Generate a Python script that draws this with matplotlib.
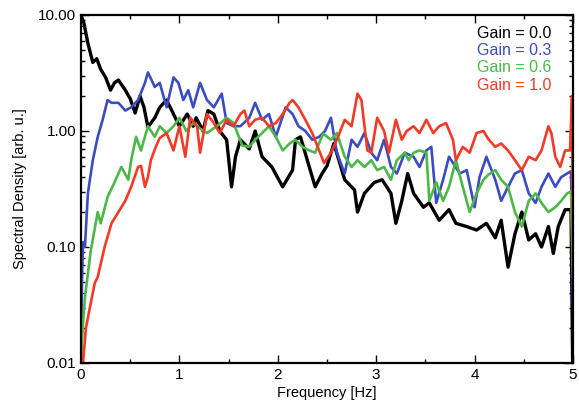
import matplotlib
matplotlib.use("Agg")
import matplotlib.pyplot as plt
from matplotlib.ticker import FixedLocator, FixedFormatter, LogLocator, NullFormatter, MultipleLocator

plt.rcParams['font.family'] = ['Liberation Sans', 'DejaVu Sans']

# ---- data ----
black_x = [0.0, 0.03, 0.07, 0.12, 0.16, 0.2, 0.25, 0.3, 0.34, 0.38, 0.45, 0.5, 0.55, 0.6, 0.64, 0.68,
           0.75, 0.8, 0.87, 0.94, 1.0, 1.08, 1.14, 1.17, 1.24, 1.29, 1.35, 1.41, 1.48, 1.53, 1.57, 1.62,
           1.71, 1.77, 1.84, 1.94, 2.01, 2.05, 2.15, 2.18, 2.23, 2.32, 2.38, 2.45, 2.5, 2.57, 2.68, 2.78,
           2.81, 2.88, 2.98, 3.06, 3.15, 3.2, 3.26, 3.32, 3.38, 3.48, 3.54, 3.64, 3.74, 3.81, 3.92, 4.02,
           4.12, 4.21, 4.27, 4.34, 4.41, 4.48, 4.55, 4.62, 4.68, 4.75, 4.8, 4.85, 4.92, 4.98, 5.0]
black_y = [10.0, 8.5, 5.7, 3.9, 4.2, 3.4, 2.9, 2.25, 2.6, 2.75, 2.25, 1.9, 1.43, 2.0, 1.6, 1.08,
           1.3, 1.6, 1.85, 1.4, 1.1, 1.4, 1.1, 1.3, 1.0, 1.5, 1.4, 1.0, 0.84, 0.33, 0.6, 0.84,
           0.7, 1.0, 0.6, 0.49, 0.38, 0.33, 0.46, 0.84, 0.89, 0.49, 0.33, 0.43, 0.5, 0.78, 0.38, 0.31,
           0.2, 0.29, 0.36, 0.38, 0.29, 0.16, 0.25, 0.43, 0.29, 0.22, 0.24, 0.17, 0.21, 0.16, 0.15, 0.14,
           0.16, 0.12, 0.17, 0.067, 0.13, 0.2, 0.115, 0.13, 0.1, 0.15, 0.088, 0.15, 0.21, 0.21, 0.005]

blue_x = [0.0, 0.01, 0.02, 0.04, 0.07, 0.12, 0.17, 0.22, 0.27, 0.31, 0.38, 0.45, 0.51, 0.58, 0.65, 0.68,
          0.75, 0.8, 0.87, 0.94, 0.99, 1.04, 1.09, 1.14, 1.21, 1.28, 1.35, 1.43, 1.48, 1.55, 1.62, 1.71,
          1.77, 1.84, 1.91, 1.98, 2.08, 2.15, 2.21, 2.28, 2.35, 2.42, 2.48, 2.54, 2.6, 2.68, 2.75, 2.81,
          2.88, 2.95, 3.01, 3.08, 3.15, 3.21, 3.29, 3.38, 3.44, 3.51, 3.56, 3.61, 3.68, 3.74, 3.85, 3.92,
          4.0, 4.05, 4.12, 4.16, 4.21, 4.27, 4.34, 4.41, 4.48, 4.55, 4.62, 4.68, 4.75, 4.82, 4.88, 4.94,
          4.98, 5.0]
blue_y = [0.01, 0.05, 0.11, 0.1, 0.29, 0.56, 0.89, 1.25, 1.85, 1.75, 1.75, 1.5, 1.6, 1.85, 2.6, 3.2,
          2.4, 2.6, 1.6, 2.9, 2.6, 1.85, 2.25, 1.6, 2.6, 1.85, 1.6, 2.1, 1.17, 1.1, 1.1, 1.3,
          1.75, 1.25, 1.4, 0.89, 1.6, 1.4, 1.1, 1.0, 0.84, 0.89, 1.0, 1.3, 0.65, 0.43, 0.84, 0.73,
          0.96, 0.65, 0.56, 0.84, 0.49, 0.43, 0.65, 0.6, 0.49, 0.68, 0.73, 0.24, 0.38, 0.6, 0.43, 0.46,
          0.22, 0.4, 0.6, 0.49, 0.38, 0.25, 0.33, 0.43, 0.46, 0.29, 0.24, 0.33, 0.43, 0.33, 0.4, 0.43,
          0.45, 0.033]

green_x = [0.0, 0.04, 0.1, 0.17, 0.2, 0.27, 0.34, 0.41, 0.48, 0.51, 0.56, 0.61, 0.68, 0.75, 0.8, 0.87,
           0.94, 1.0, 1.07, 1.14, 1.21, 1.28, 1.38, 1.48, 1.55, 1.64, 1.71, 1.77, 1.84, 1.91, 1.98, 2.05,
           2.12, 2.18, 2.25, 2.32, 2.38, 2.46, 2.54, 2.6, 2.68, 2.75, 2.81, 2.88, 2.95, 3.01, 3.08, 3.15,
           3.21, 3.29, 3.33, 3.38, 3.44, 3.51, 3.54, 3.61, 3.68, 3.74, 3.81, 3.88, 3.95, 4.02, 4.09, 4.14,
           4.21, 4.27, 4.34, 4.41, 4.48, 4.55, 4.62, 4.68, 4.75, 4.82, 4.88, 4.94, 4.98, 5.0]
green_y = [0.012, 0.037, 0.094, 0.2, 0.16, 0.27, 0.36, 0.49, 0.38, 0.56, 0.89, 0.68, 1.1, 0.89, 1.1, 0.96,
           1.1, 1.3, 1.0, 1.17, 1.05, 0.96, 1.1, 1.3, 1.17, 0.75, 0.73, 0.84, 0.96, 1.1, 0.89, 0.68,
           0.78, 0.84, 0.73, 0.68, 0.65, 0.95, 0.84, 0.96, 0.6, 0.49, 0.56, 0.49, 0.56, 0.46, 0.49, 0.38,
           0.56, 0.65, 0.56, 0.65, 0.68, 0.65, 0.25, 0.36, 0.25, 0.33, 0.56, 0.33, 0.2, 0.29, 0.38, 0.42,
           0.46, 0.38, 0.33, 0.2, 0.15, 0.25, 0.29, 0.24, 0.2, 0.22, 0.25, 0.29, 0.3, 0.055]

red_x = [0.0, 0.02, 0.05, 0.09, 0.14, 0.17, 0.24, 0.31, 0.38, 0.45, 0.51, 0.58, 0.61, 0.65, 0.68, 0.71,
         0.76, 0.8, 0.87, 0.94, 1.0, 1.06, 1.11, 1.18, 1.21, 1.28, 1.35, 1.41, 1.48, 1.55, 1.62, 1.66,
         1.71, 1.77, 1.84, 1.91, 1.98, 2.05, 2.12, 2.15, 2.21, 2.28, 2.35, 2.42, 2.47, 2.54, 2.6, 2.68,
         2.75, 2.81, 2.85, 2.91, 2.95, 3.01, 3.08, 3.13, 3.2, 3.26, 3.31, 3.38, 3.44, 3.51, 3.58, 3.64,
         3.71, 3.78, 3.81, 3.88, 3.95, 4.02, 4.09, 4.14, 4.21, 4.27, 4.34, 4.41, 4.48, 4.55, 4.62, 4.68,
         4.75, 4.78, 4.82, 4.87, 4.92, 4.97, 4.99, 5.0]
red_y = [0.008, 0.01, 0.02, 0.03, 0.049, 0.055, 0.1, 0.16, 0.2, 0.25, 0.33, 0.49, 0.5, 0.33, 0.4, 0.56,
         0.73, 0.87, 0.96, 0.68, 1.1, 0.6, 1.3, 1.1, 0.65, 1.4, 1.17, 0.96, 1.25, 1.1, 1.4, 1.5,
         1.1, 1.25, 1.3, 1.1, 1.17, 1.4, 1.75, 1.85, 1.6, 1.25, 0.96, 0.68, 0.53, 0.65, 0.84, 1.25,
         1.1, 2.1, 1.85, 0.68, 0.65, 1.3, 1.0, 0.65, 1.25, 0.84, 1.0, 1.1, 0.96, 1.25, 0.96, 1.1,
         1.17, 0.84, 0.56, 0.73, 0.65, 0.96, 1.0, 0.85, 0.73, 0.78, 0.68, 0.56, 0.46, 0.6, 0.56, 0.68,
         1.1, 0.96, 0.6, 0.49, 0.68, 0.68, 2.0, 0.072]

series_labels = ["Gain = 0.0", "Gain = 0.3", "Gain = 0.6", "Gain = 1.0"]
series_colors = ["#000000", "#3a4cc0", "#4cb848", "#f23a26"]

ytick_vals = [0.01, 0.1, 1.0, 10.0]
ytick_labels = ["0.01", "0.10", "1.00", "10.00"]
xtick_vals = [0, 1, 2, 3, 4, 5]

# ---- figure ----
fig = plt.figure(figsize=(5.79, 4.07), dpi=100)
ax = fig.add_axes([81/579, 1 - 363/407, 492/579, 348/407])

data = [(black_x, black_y), (blue_x, blue_y), (green_x, green_y), (red_x, red_y)]
widths = [2.4, 1.9, 1.9, 1.9]
for (xs, ys), c, w in zip(data, series_colors, widths):
    ax.plot(xs, ys, color=c, lw=w, solid_joinstyle='round')

ax.set_yscale('log')
ax.set_xlim(0, 5)
ax.set_ylim(0.01, 10)

ax.yaxis.set_major_locator(FixedLocator(ytick_vals))
ax.yaxis.set_major_formatter(FixedFormatter(ytick_labels))
ax.yaxis.set_minor_locator(LogLocator(base=10, subs=range(2, 10)))
ax.yaxis.set_minor_formatter(NullFormatter())
ax.xaxis.set_major_locator(FixedLocator(xtick_vals))
ax.xaxis.set_minor_locator(MultipleLocator(0.5))

ax.tick_params(which='both', direction='in', top=True, right=True, width=1.0, labelsize=11)
ax.tick_params(which='major', length=6)
ax.tick_params(which='minor', length=3)
for s in ax.spines.values():
    s.set_linewidth(1.6)

ax.set_xlabel("Frequency [Hz]", fontsize=10.5, labelpad=3)
ax.set_ylabel("Spectral Density [arb. u.]", fontsize=10.5, labelpad=8)

ys_leg = [0.948, 0.897, 0.848, 0.796]
for lab, c, yy in zip(series_labels, series_colors, ys_leg):
    ax.text(0.957, yy, lab, color=c, fontsize=11.5, ha='right', va='center', transform=ax.transAxes)

fig.savefig("out.png", dpi=100)
